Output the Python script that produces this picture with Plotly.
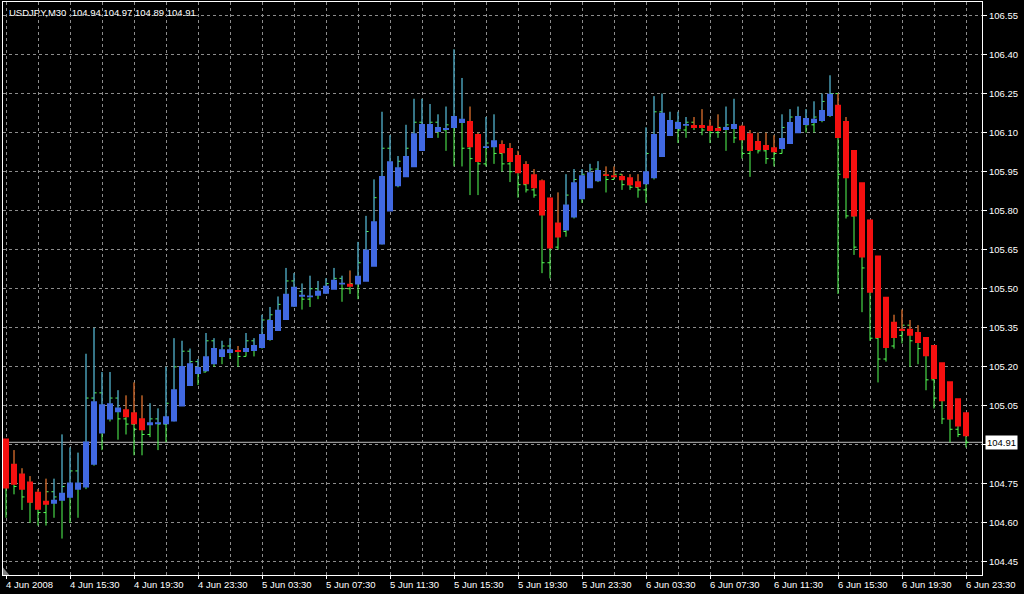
import plotly.graph_objects as go

# ---------------- data (USDJPY M30, 4 Jun 2008 11:30 .. 6 Jun 2008 23:30) ----------------
chart_title = "USDJPY,M30\u00a0\u00a0104.94 104.97 104.89 104.91"

time_labels = ["4 Jun 2008", "4 Jun 15:30", "4 Jun 19:30", "4 Jun 23:30",
               "5 Jun 03:30", "5 Jun 07:30", "5 Jun 11:30", "5 Jun 15:30",
               "5 Jun 19:30", "5 Jun 23:30", "6 Jun 03:30", "6 Jun 07:30",
               "6 Jun 11:30", "6 Jun 15:30", "6 Jun 19:30", "6 Jun 23:30"]

price_ticks = [104.45, 104.60, 104.75, 104.90, 105.05, 105.20, 105.35, 105.50,
               105.65, 105.80, 105.95, 106.10, 106.25, 106.40, 106.55]

bar_open = [104.90, 104.76, 104.74, 104.70, 104.68, 104.64, 104.72, 104.70, 104.74, 104.80,
            104.74, 105.08, 105.10, 105.02, 105.08, 105.00, 104.98, 104.96, 104.94, 105.00,
            104.98, 105.06, 105.20, 105.26, 105.22, 105.18, 105.30, 105.26, 105.28, 105.26,
            105.24, 105.30, 105.28, 105.38, 105.40, 105.44, 105.53, 105.49, 105.46, 105.50,
            105.49, 105.52, 105.54, 105.50, 105.52, 105.60, 105.72, 105.85, 106.04, 105.92,
            105.99, 106.04, 106.14, 106.12, 106.14, 106.11, 106.13, 106.15, 106.04, 106.00,
            105.98, 106.06, 106.02, 105.98, 105.95, 105.90, 105.88, 105.86, 105.60, 105.66,
            105.72, 105.86, 105.92, 105.94, 105.96, 105.94, 105.92, 105.94, 105.90, 105.89,
            105.88, 106.02, 106.18, 106.12, 106.14, 106.11, 106.14, 106.12, 106.11, 106.10,
            106.12, 106.13, 106.08, 106.02, 106.04, 106.03, 106.00, 106.02, 106.12, 106.16,
            106.14, 106.13, 106.16, 106.22, 106.25, 105.94, 105.78, 105.66, 105.58, 105.31,
            105.23, 105.28, 105.32, 105.36, 105.30, 105.27, 105.15, 105.08, 105.00, 104.96,
            104.94]

bar_high = [104.92, 104.88, 104.81, 104.78, 104.73, 104.77, 104.77, 104.94, 104.89, 104.87,
            105.25, 105.35, 105.18, 105.18, 105.11, 105.09, 105.14, 105.09, 105.06, 105.04,
            105.20, 105.31, 105.30, 105.27, 105.23, 105.33, 105.31, 105.30, 105.31, 105.28,
            105.33, 105.31, 105.40, 105.43, 105.47, 105.58, 105.56, 105.52, 105.55, 105.53,
            105.54, 105.58, 105.55, 105.57, 105.68, 105.78, 105.92, 106.18, 106.09, 106.01,
            106.13, 106.23, 106.23, 106.21, 106.17, 106.20, 106.42, 106.31, 106.20, 106.10,
            106.16, 106.17, 106.07, 106.06, 106.03, 105.99, 105.96, 105.92, 105.85, 105.87,
            105.94, 105.96, 105.96, 105.98, 105.99, 105.97, 105.97, 105.94, 105.94, 105.94,
            106.12, 106.24, 106.25, 106.18, 106.18, 106.16, 106.16, 106.19, 106.15, 106.17,
            106.20, 106.23, 106.13, 106.11, 106.10, 106.10, 106.09, 106.17, 106.19, 106.20,
            106.19, 106.22, 106.25, 106.32, 106.25, 106.16, 105.80, 105.68, 105.60, 105.33,
            105.30, 105.40, 105.42, 105.38, 105.36, 105.31, 105.18, 105.10, 105.02, 105.00,
            104.97]

bar_low = [104.62, 104.71, 104.65, 104.60, 104.59, 104.59, 104.62, 104.54, 104.60, 104.62,
           104.73, 104.82, 104.88, 104.99, 104.92, 104.94, 104.86, 104.86, 104.93, 104.88,
           104.91, 104.99, 105.05, 105.13, 105.13, 105.18, 105.20, 105.21, 105.23, 105.20,
           105.24, 105.24, 105.27, 105.30, 105.34, 105.38, 105.43, 105.42, 105.43, 105.46,
           105.48, 105.50, 105.45, 105.48, 105.46, 105.53, 105.59, 105.67, 105.80, 105.89,
           105.93, 105.97, 106.03, 106.08, 106.08, 106.03, 105.97, 105.97, 105.86, 105.86,
           105.97, 105.98, 105.95, 105.91, 105.85, 105.87, 105.85, 105.56, 105.54, 105.65,
           105.70, 105.77, 105.83, 105.89, 105.91, 105.87, 105.92, 105.88, 105.88, 105.85,
           105.83, 105.92, 106.01, 106.09, 106.06, 106.08, 106.11, 106.09, 106.06, 106.08,
           106.03, 106.06, 106.00, 105.93, 106.02, 105.98, 105.97, 106.02, 106.06, 106.10,
           106.10, 106.10, 106.14, 106.16, 105.48, 105.77, 105.63, 105.41, 105.30, 105.14,
           105.22, 105.27, 105.29, 105.20, 105.21, 105.11, 105.04, 104.98, 104.91, 104.93,
           104.89]

bar_close = [104.76, 104.74, 104.70, 104.68, 104.64, 104.72, 104.70, 104.74, 104.80, 104.74,
             105.08, 105.10, 105.02, 105.08, 105.00, 104.98, 104.96, 104.94, 105.00, 104.98,
             105.06, 105.20, 105.26, 105.22, 105.18, 105.30, 105.26, 105.28, 105.26, 105.24,
             105.30, 105.28, 105.38, 105.40, 105.44, 105.53, 105.49, 105.46, 105.50, 105.49,
             105.52, 105.54, 105.50, 105.52, 105.60, 105.72, 105.85, 106.04, 105.92, 105.99,
             106.04, 106.14, 106.12, 106.14, 106.11, 106.13, 106.15, 106.04, 106.00, 105.98,
             106.06, 106.02, 105.98, 105.95, 105.90, 105.88, 105.86, 105.60, 105.66, 105.72,
             105.86, 105.92, 105.94, 105.96, 105.94, 105.92, 105.94, 105.90, 105.89, 105.88,
             106.02, 106.18, 106.12, 106.14, 106.11, 106.14, 106.12, 106.11, 106.10, 106.12,
             106.13, 106.08, 106.02, 106.04, 106.03, 106.00, 106.02, 106.12, 106.16, 106.14,
             106.13, 106.16, 106.22, 106.25, 105.94, 105.78, 105.66, 105.58, 105.31, 105.23,
             105.28, 105.32, 105.36, 105.30, 105.27, 105.15, 105.08, 105.00, 104.96, 104.94,
             104.91]

# Heiken Ashi candle bodies
ha_open = [104.925, 104.828, 104.790, 104.759, 104.720, 104.685, 104.674, 104.685, 104.697, 104.728,
           104.736, 104.824, 104.944, 104.998, 105.025, 105.037, 105.025, 105.002, 104.975, 104.979,
           104.979, 104.990, 105.048, 105.126, 105.172, 105.183, 105.210, 105.238, 105.253, 105.265,
           105.257, 105.261, 105.272, 105.303, 105.338, 105.380, 105.431, 105.469, 105.469, 105.473,
           105.481, 105.496, 105.516, 105.519, 105.516, 105.527, 105.585, 105.670, 105.797, 105.894,
           105.929, 105.967, 106.029, 106.079, 106.102, 106.110, 106.118, 106.137, 106.145, 106.095,
           106.041, 106.044, 106.056, 106.041, 106.014, 105.979, 105.940, 105.917, 105.851, 105.755,
           105.724, 105.774, 105.844, 105.886, 105.913, 105.940, 105.936, 105.933, 105.929, 105.913,
           105.902, 105.925, 106.006, 106.087, 106.114, 106.126, 106.129, 106.129, 106.126, 106.118,
           106.110, 106.114, 106.126, 106.098, 106.068, 106.052, 106.044, 106.037, 106.056, 106.098,
           106.129, 106.137, 106.145, 106.164, 106.207, 106.145, 106.033, 105.909, 105.766, 105.628,
           105.469, 105.373, 105.346, 105.346, 105.334, 105.315, 105.284, 105.218, 105.145, 105.079,
           105.025]

ha_close = [104.732, 104.747, 104.728, 104.678, 104.651, 104.670, 104.689, 104.716, 104.755, 104.755,
            104.913, 105.068, 105.056, 105.060, 105.044, 105.006, 104.979, 104.956, 104.987, 104.987,
            105.010, 105.114, 105.203, 105.214, 105.199, 105.241, 105.272, 105.268, 105.268, 105.257,
            105.272, 105.284, 105.326, 105.380, 105.419, 105.481, 105.508, 105.477, 105.473, 105.492,
            105.512, 105.535, 105.523, 105.508, 105.550, 105.651, 105.759, 105.933, 105.990, 105.967,
            106.010, 106.098, 106.133, 106.133, 106.122, 106.118, 106.164, 106.153, 106.044, 105.987,
            106.048, 106.071, 106.021, 105.987, 105.944, 105.902, 105.886, 105.782, 105.655, 105.697,
            105.824, 105.909, 105.936, 105.948, 105.956, 105.933, 105.929, 105.917, 105.898, 105.890,
            105.952, 106.095, 106.176, 106.149, 106.141, 106.133, 106.118, 106.118, 106.106, 106.106,
            106.122, 106.133, 106.071, 106.029, 106.033, 106.033, 106.025, 106.079, 106.141, 106.164,
            106.156, 106.153, 106.187, 106.249, 106.079, 105.925, 105.778, 105.620, 105.485, 105.311,
            105.272, 105.311, 105.338, 105.319, 105.292, 105.241, 105.153, 105.068, 104.998, 104.971,
            104.933]

# ---------------- style ----------------
GREEN = "#55ff55"
BLUE = "#4169e1"
RED = "#f51010"
GRID = "#8c8c8c"
FONT = "Liberation Sans, Arial, sans-serif"
FS = 9.5
HALF_W = 0.375      # half body width in bar units (8 px per bar -> 6 px body)
MIN_H = 0.007       # smallest drawn body height

n = len(bar_open)
idx = list(range(n))
last_price = bar_close[-1]

fig = go.Figure()

# OHLC bars (green) with open/close ticks
bx, by = [], []
for i in idx:
    bx += [i, i, None, i - 0.32, i, None, i, i + 0.32, None]
    by += [bar_low[i], bar_high[i], None, bar_open[i], bar_open[i], None,
           bar_close[i], bar_close[i], None]
fig.add_trace(go.Scatter(x=bx, y=by, mode="lines", line=dict(color=GREEN, width=1),
                         hoverinfo="skip", showlegend=False))

# Heiken Ashi upper wicks and bodies, drawn above the green bars
for color, want_up in [(BLUE, True), (RED, False)]:
    wx, wy = [], []
    rx, ry = [], []
    for i in idx:
        up = ha_close[i] >= ha_open[i]
        if up != want_up:
            continue
        lo = min(ha_open[i], ha_close[i])
        hi = max(ha_open[i], ha_close[i])
        if bar_high[i] > hi:
            wx += [i, i, None]
            wy += [hi, bar_high[i], None]
        if hi - lo < MIN_H:
            mid = (hi + lo) / 2
            lo, hi = mid - MIN_H / 2, mid + MIN_H / 2
        rx += [i - HALF_W, i + HALF_W, i + HALF_W, i - HALF_W, i - HALF_W, None]
        ry += [lo, lo, hi, hi, lo, None]
    fig.add_trace(go.Scatter(x=wx, y=wy, mode="lines", line=dict(color=color, width=1),
                             hoverinfo="skip", showlegend=False))
    fig.add_trace(go.Scatter(x=rx, y=ry, mode="lines", fill="toself", fillcolor=color,
                             line=dict(color=color, width=0), hoverinfo="skip",
                             showlegend=False))

label_pos = list(range(0, n, 8))

fig.update_layout(
    width=1024, height=594,
    margin=dict(l=3, r=42, t=2, b=19),
    paper_bgcolor="black", plot_bgcolor="black",
    showlegend=False,
    font=dict(family=FONT, size=FS, color="white"),
)

# 979 px plot width / 122.375 units = 8 px per bar
fig.update_xaxes(
    range=[-0.375, 122.0],
    tickmode="array", tickvals=label_pos, showticklabels=False,
    ticks="outside", ticklen=3, tickcolor="white", tickwidth=1,
    showgrid=True, gridcolor=GRID, griddash="3px,3px", gridwidth=1,
    minor=dict(tickmode="array", tickvals=list(range(4, n, 8)), showgrid=True,
               gridcolor=GRID, griddash="3px,3px", gridwidth=1, ticks=""),
    showline=True, linecolor="white", linewidth=1, mirror=True,
    zeroline=False, fixedrange=True,
)

# the 104.90 label sits behind the current-price box, so it is left blank
ytext = ["" if abs(v - last_price) < 0.03 else "%.2f" % v for v in price_ticks]
fig.update_yaxes(
    side="right", range=[104.400, 106.602],
    tickmode="array", tickvals=price_ticks, ticktext=ytext,
    ticks="outside", ticklen=4, tickcolor="white", tickwidth=1,
    tickfont=dict(family=FONT, size=FS, color="white"),
    showgrid=True, gridcolor=GRID, griddash="3px,3px", gridwidth=1,
    showline=True, linecolor="white", linewidth=1, mirror=True,
    zeroline=False, fixedrange=True,
)

annotations = []
for pos, lab in zip(label_pos, time_labels):
    annotations.append(dict(x=pos, xref="x", y=0, yref="paper", text=lab,
                            xanchor="left", yanchor="top", xshift=-2, yshift=-2,
                            showarrow=False, font=dict(family=FONT, size=FS, color="white")))
annotations.append(dict(x=0, xref="paper", y=1, yref="paper", text=chart_title,
                        xanchor="left", yanchor="top", xshift=4, yshift=-3,
                        showarrow=False, font=dict(family=FONT, size=FS, color="white")))
annotations.append(dict(x=1, xref="paper", y=last_price, yref="y",
                        text="%.2f" % last_price, xanchor="left", yanchor="middle",
                        xshift=3, showarrow=False, bgcolor="white", borderpad=1,
                        font=dict(family=FONT, size=FS, color="black")))
fig.update_layout(annotations=annotations)

fig.update_layout(shapes=[
    dict(type="line", xref="paper", x0=0, x1=1, yref="y", y0=last_price, y1=last_price,
         line=dict(color="#c0c0c0", width=1), layer="between"),
    dict(type="path", xref="paper", yref="paper", path="M 0,0 L 0,0.013 L 0.0065,0 Z",
         fillcolor="#808080", line=dict(width=0), layer="above"),
])

fig.write_html("out.html", config={"displayModeBar": False},
               post_script="document.body.style.margin='0';document.body.style.background='black';")
